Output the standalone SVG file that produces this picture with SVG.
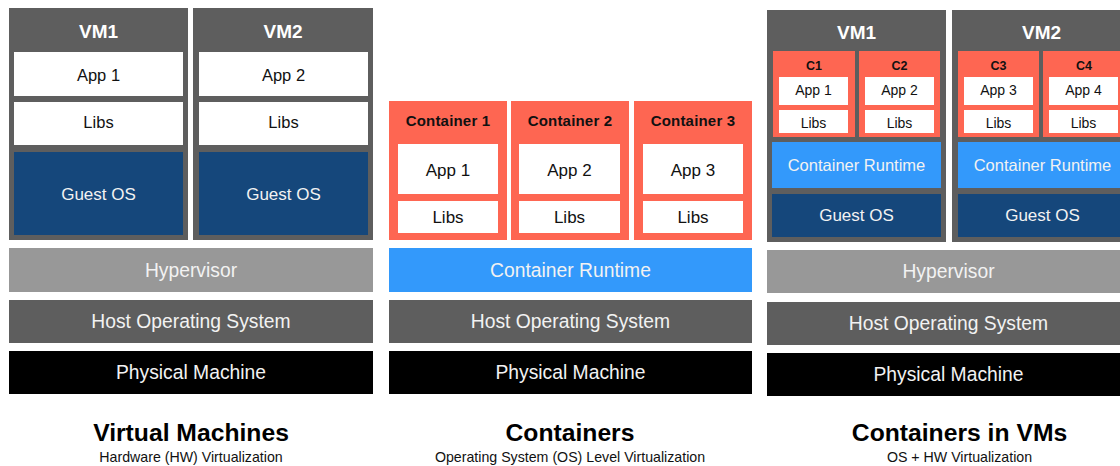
<svg xmlns="http://www.w3.org/2000/svg" width="1120" height="466" viewBox="0 0 1120 466">
<style>
text{font-family:"Liberation Sans",Arial,sans-serif;text-anchor:middle}
.vm{fill:#5e5e5e}
.white{fill:#ffffff}
.gos{fill:#15477b}
.hyp{fill:#989898}
.hos{fill:#5e5e5e}
.phy{fill:#000000}
.ctr{fill:#fe6652}
.rt{fill:#3399fb}
.lt{fill:#f2f2f2;font-size:19.3px}
.go{fill:#f2f2f2;font-size:17px}
.crs{fill:#f2f2f2;font-size:16.5px}
.dk{fill:#111111;font-size:16.5px}
.dkm{fill:#111111;font-size:17px}
.vml{fill:#ffffff;font-size:19px;font-weight:bold}
.cl{fill:#111111;font-size:15px;font-weight:bold;letter-spacing:0.2px}
.sm{fill:#111111;font-size:14px}
.cs{fill:#111111;font-size:12.5px;font-weight:bold}
.title{fill:#000000;font-size:24.7px;font-weight:bold}
.sub{fill:#111111;font-size:14.2px}
</style>
<g id="vm-section">
<g id="vm1">
<rect class="vm" x="9" y="8" width="179" height="232"/>
<text class="vml" x="98.5" y="38">VM1</text>
<rect class="white" x="14" y="52" width="169" height="44"/>
<text class="dk" x="98.5" y="81">App 1</text>
<rect class="white" x="14" y="102" width="169" height="43"/>
<text class="dk" x="98.5" y="128">Libs</text>
<rect class="gos" x="14" y="152" width="169" height="83"/>
<text class="go" x="98.5" y="200">Guest OS</text>
</g>
<g id="vm2">
<rect class="vm" x="193" y="8" width="180" height="232"/>
<text class="vml" x="283" y="38">VM2</text>
<rect class="white" x="199" y="52" width="169" height="44"/>
<text class="dk" x="283.5" y="81">App 2</text>
<rect class="white" x="199" y="102" width="169" height="43"/>
<text class="dk" x="283.5" y="128">Libs</text>
<rect class="gos" x="199" y="152" width="169" height="83"/>
<text class="go" x="283.5" y="200">Guest OS</text>
</g>
<g id="vm-hypervisor">
<rect class="hyp" x="9" y="248" width="364" height="44"/>
<text class="lt" x="191" y="276.5">Hypervisor</text>
</g>
<g id="vm-hostos">
<rect class="hos" x="9" y="300" width="364" height="43"/>
<text class="lt" x="191" y="327.5">Host Operating System</text>
</g>
<g id="vm-physical">
<rect class="phy" x="9" y="351" width="364" height="43"/>
<text class="lt" x="191" y="378.5">Physical Machine</text>
</g>
<g id="vm-title">
<text class="title" x="191" y="441">Virtual Machines</text>
<text class="sub" x="191" y="462">Hardware (HW) Virtualization</text>
</g>
</g>
<g id="container-section">
<g id="container1">
<rect class="ctr" x="389" y="101" width="118" height="139"/>
<text class="cl" x="448" y="126">Container 1</text>
<rect class="white" x="398" y="144" width="100" height="50"/>
<text class="dkm" x="448" y="176">App 1</text>
<rect class="white" x="398" y="201" width="100" height="32"/>
<text class="dkm" x="448" y="223">Libs</text>
</g>
<g id="container2">
<rect class="ctr" x="511" y="101" width="118" height="139"/>
<text class="cl" x="570" y="126">Container 2</text>
<rect class="white" x="519" y="144" width="101" height="50"/>
<text class="dkm" x="569.5" y="176">App 2</text>
<rect class="white" x="519" y="201" width="101" height="32"/>
<text class="dkm" x="569.5" y="223">Libs</text>
</g>
<g id="container3">
<rect class="ctr" x="634" y="101" width="118" height="139"/>
<text class="cl" x="693" y="126">Container 3</text>
<rect class="white" x="643" y="144" width="100" height="50"/>
<text class="dkm" x="693" y="176">App 3</text>
<rect class="white" x="643" y="201" width="100" height="32"/>
<text class="dkm" x="693" y="223">Libs</text>
</g>
<g id="ct-runtime">
<rect class="rt" x="389" y="248" width="363" height="44"/>
<text class="lt" x="570.5" y="276.5">Container Runtime</text>
</g>
<g id="ct-hostos">
<rect class="hos" x="389" y="300" width="363" height="43"/>
<text class="lt" x="570.5" y="327.5">Host Operating System</text>
</g>
<g id="ct-physical">
<rect class="phy" x="389" y="351" width="363" height="43"/>
<text class="lt" x="570.5" y="378.5">Physical Machine</text>
</g>
<g id="ct-title">
<text class="title" x="570" y="441">Containers</text>
<text class="sub" x="570" y="462">Operating System (OS) Level Virtualization</text>
</g>
</g>
<g id="civ-section">
<g id="civ-vm1">
<rect class="vm" x="767" y="10" width="179" height="232"/>
<text class="vml" x="856.5" y="39">VM1</text>
<g id="c1">
<rect class="ctr" x="773" y="51" width="82" height="86"/>
<text class="cs" x="814" y="70">C1</text>
<rect class="white" x="779" y="77" width="69" height="28"/>
<text class="sm" x="813.5" y="95">App 1</text>
<rect class="white" x="779" y="110" width="69" height="23"/>
<text class="sm" x="813.5" y="128">Libs</text>
</g>
<g id="c2">
<rect class="ctr" x="859" y="51" width="81" height="86"/>
<text class="cs" x="899.5" y="70">C2</text>
<rect class="white" x="865" y="77" width="69" height="28"/>
<text class="sm" x="899.5" y="95">App 2</text>
<rect class="white" x="865" y="110" width="69" height="23"/>
<text class="sm" x="899.5" y="128">Libs</text>
</g>
<rect class="rt" x="772" y="142" width="169" height="46"/>
<text class="crs" x="856.5" y="171">Container Runtime</text>
<rect class="gos" x="772" y="194" width="169" height="43"/>
<text class="go" x="856.5" y="221">Guest OS</text>
</g>
<g id="civ-vm2">
<rect class="vm" x="952" y="10" width="179" height="232"/>
<text class="vml" x="1041.5" y="39">VM2</text>
<g id="c3">
<rect class="ctr" x="958" y="51" width="81" height="86"/>
<text class="cs" x="998.5" y="70">C3</text>
<rect class="white" x="964" y="77" width="69" height="28"/>
<text class="sm" x="998.5" y="95">App 3</text>
<rect class="white" x="964" y="110" width="69" height="23"/>
<text class="sm" x="998.5" y="128">Libs</text>
</g>
<g id="c4">
<rect class="ctr" x="1043" y="51" width="82" height="86"/>
<text class="cs" x="1084" y="70">C4</text>
<rect class="white" x="1049" y="77" width="69" height="28"/>
<text class="sm" x="1083.5" y="95">App 4</text>
<rect class="white" x="1049" y="110" width="69" height="23"/>
<text class="sm" x="1083.5" y="128">Libs</text>
</g>
<rect class="rt" x="958" y="142" width="169" height="46"/>
<text class="crs" x="1042.5" y="171">Container Runtime</text>
<rect class="gos" x="958" y="194" width="169" height="43"/>
<text class="go" x="1042.5" y="221">Guest OS</text>
</g>
<g id="civ-hypervisor">
<rect class="hyp" x="767" y="250" width="364" height="43"/>
<text class="lt" x="948.5" y="278">Hypervisor</text>
</g>
<g id="civ-hostos">
<rect class="hos" x="767" y="302" width="364" height="43"/>
<text class="lt" x="948.5" y="329.5">Host Operating System</text>
</g>
<g id="civ-physical">
<rect class="phy" x="767" y="353" width="364" height="43"/>
<text class="lt" x="948.5" y="380.5">Physical Machine</text>
</g>
<g id="civ-title">
<text class="title" x="959.5" y="441">Containers in VMs</text>
<text class="sub" x="959.5" y="462">OS + HW Virtualization</text>
</g>
</g>
<g id="connectors"/>
</svg>
